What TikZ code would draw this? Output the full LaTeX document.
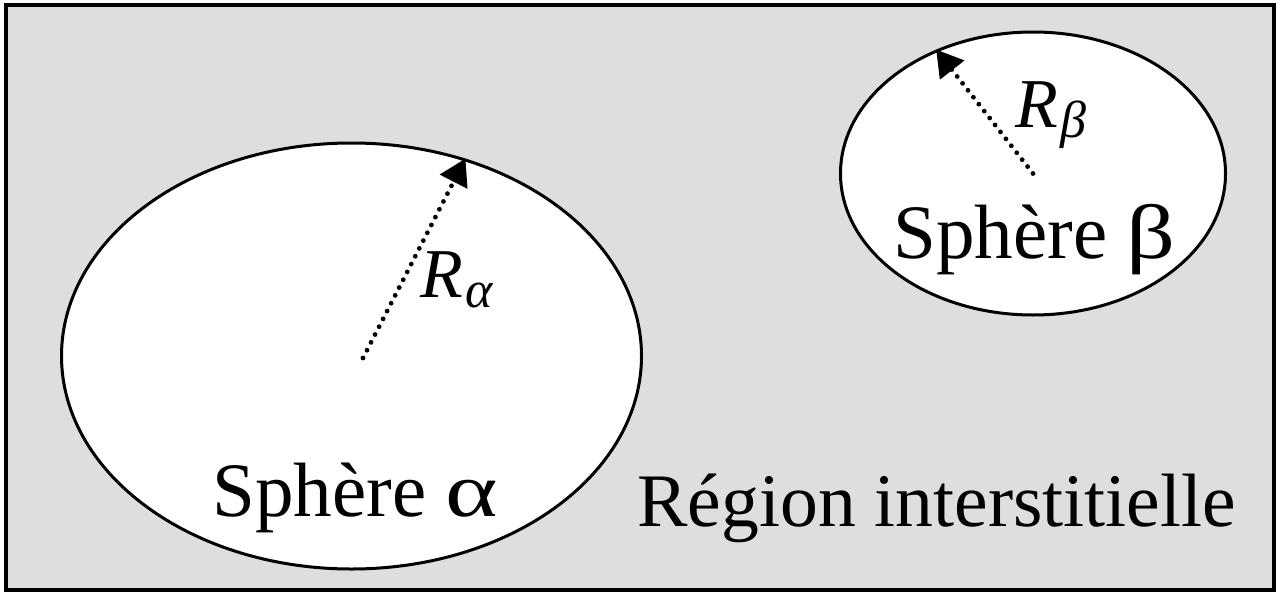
\documentclass[tikz,border=0pt]{standalone}
\usepackage{fontspec}
\setmainfont{Liberation Serif}
\usetikzlibrary{shapes.geometric,arrows.meta,positioning}
\definecolor{regiongray}{RGB}{222,222,222}
\newcommand{\radsub}[1]{\kern1pt\raisebox{-5pt}{\fontsize{26}{30}\selectfont #1}}

\begin{document}
\begin{tikzpicture}[x=0.5pt, y=-0.5pt,
    sphere/.style={ellipse, draw=black, line width=1.5pt, fill=white, inner sep=0pt},
    radius/.style={-{Triangle[length=13pt,width=15pt]}, line width=2.4pt, line cap=round, dash pattern=on 0pt off 4.4pt},
    label/.style={font=\fontsize{38.5}{46}\selectfont, inner sep=0pt},
    rlabel/.style={font=\fontsize{35}{40}\selectfont\itshape, inner sep=0pt}
]

% Frame (interstitial region)
\useasboundingbox (0,0) rectangle (1279,594);
\draw[fill=regiongray, line width=1.8pt] (6,5) rectangle (1274,590);

% Spheres
\node[sphere, minimum width=290pt, minimum height=213pt] (spha) at (351.5,356) {};
\node[sphere, minimum width=192.5pt, minimum height=141.5pt] (sphb) at (1033,173.5) {};

% Radii
\coordinate (ca) at (363,358);
\draw[radius] (ca) -- (spha.60);
\draw[radius] (sphb.center) -- (sphb.128);

% Labels
\node[rlabel, anchor=base west] (ra) at (420,297) {R\radsub{α}};
\node[rlabel, anchor=base west] (rb) at (1015,127) {R\radsub{β}};
\node[label, anchor=base west] (namea) at (212,516) {Sphère \scalebox{1.3}[1]{α}};
\node[label, anchor=base west] (nameb) at (893,258) {Sphère \scalebox{1.25}[1]{β}};
\node[label, anchor=base west, font=\fontsize{37.8}{46}\selectfont] (region) at (637,526) {Région interstitielle};

\end{tikzpicture}
\end{document}
